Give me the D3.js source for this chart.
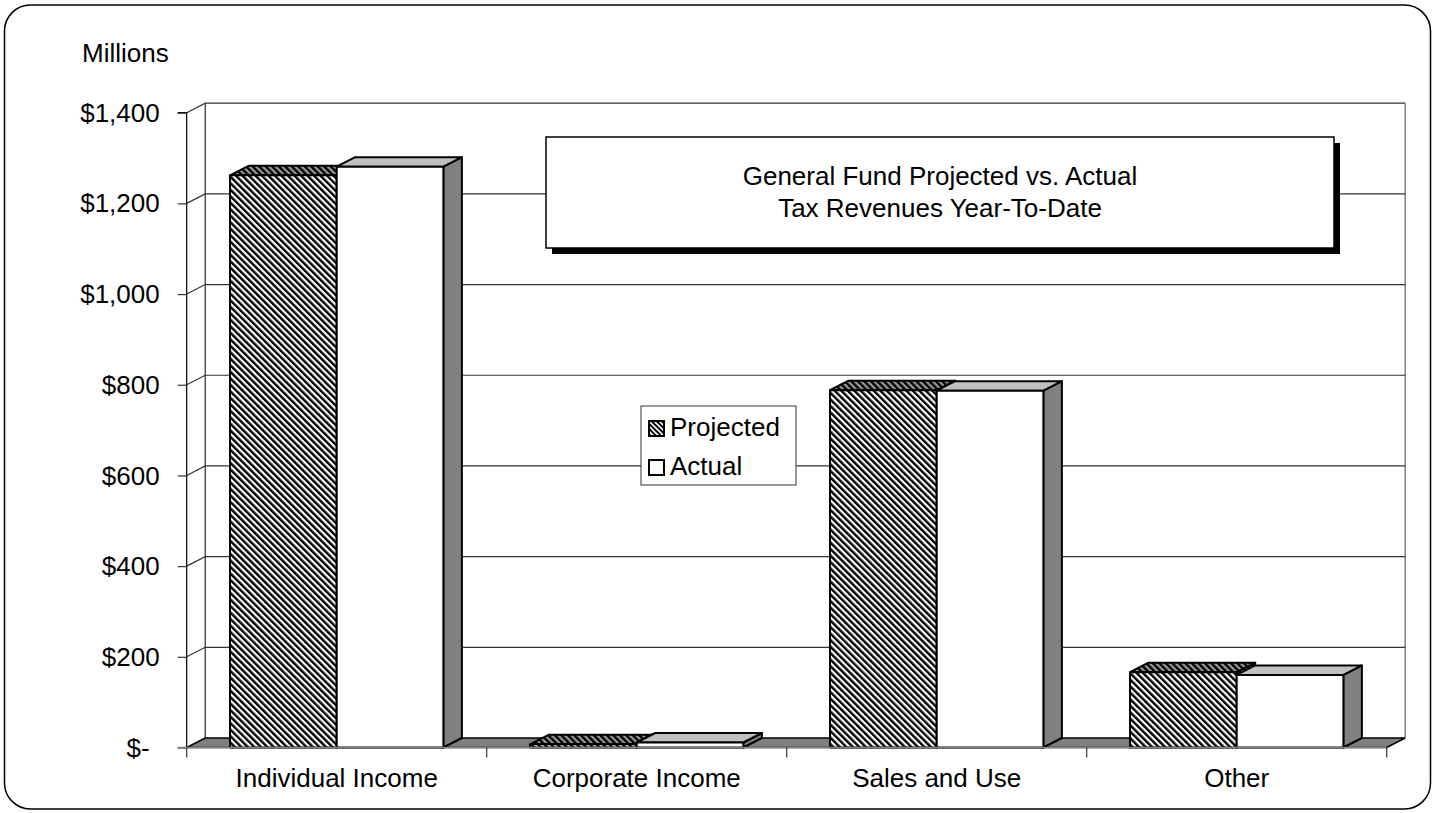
<!DOCTYPE html>
<html>
<head>
<meta charset="utf-8">
<script src="https://cdn.jsdelivr.net/npm/d3@7"></script>
<style>
  html, body { margin: 0; padding: 0; background: #fff; }
  svg { display: block; font-family: "Liberation Sans", Arial, sans-serif; }
</style>
</head>
<body>
<svg id="chart" width="1435" height="813"></svg>
<script>
// ---- data ----
const categories = ["Individual Income", "Corporate Income", "Sales and Use", "Other"];
const seriesNames = ["Projected", "Actual"];
const projected = [1262, 7, 788, 166];
const actual = [1281, 11, 787, 160];
const yTicks = [0, 200, 400, 600, 800, 1000, 1200, 1400];
const titleLines = ["General Fund Projected vs. Actual", "Tax Revenues Year-To-Date"];
const yUnitLabel = "Millions";

// ---- layout ----
const svg = d3.select("#chart");
const W = 1435, H = 813;
const X0 = 186.7, X1 = 1386.7;     // front plot extents
const Y0 = 747.5, Y1 = 112.7;      // front y for 0 and 1400
const DX = 18.5, DY = -9.5;        // 3D depth offset
const FS = 26;

const x = d3.scaleBand().domain(categories).range([X0, X1]).paddingInner(0).paddingOuter(0);
const barW = x.bandwidth() * 0.3556;
const xs = d3.scaleBand().domain(seriesNames)
  .range([x.bandwidth() / 2 - barW, x.bandwidth() / 2 + barW]);
const y = d3.scaleLinear().domain([0, 1400]).range([Y0, Y1]);

// defs: hatch patterns
const defs = svg.append("defs");
function hatch(id, bg, fg, period, stripe) {
  const p = defs.append("pattern").attr("id", id)
    .attr("patternUnits", "userSpaceOnUse")
    .attr("width", period).attr("height", period)
    .attr("patternTransform", "rotate(-45)");
  p.append("rect").attr("width", period).attr("height", period).attr("fill", bg);
  p.append("rect").attr("width", stripe).attr("height", period).attr("fill", fg);
}
hatch("hatchFront", "#ffffff", "#000000", 4.6, 2.4);
hatch("hatchTop", "#9a9a9a", "#000000", 4.6, 2.4);
hatch("hatchLegend", "#ffffff", "#000000", 3.6, 1.9);

// outer rounded border
svg.append("rect")
  .attr("x", 4.5).attr("y", 5).attr("width", W - 9).attr("height", H - 9)
  .attr("rx", 26).attr("ry", 26)
  .attr("fill", "#fff").attr("stroke", "#000").attr("stroke-width", 1.5);

// back wall edges
svg.append("line")
  .attr("x1", X0 + DX).attr("y1", y(1400) + DY).attr("x2", X0 + DX).attr("y2", y(0) + DY)
  .attr("stroke", "#000").attr("stroke-width", 1);
svg.append("line")
  .attr("x1", X1 + DX).attr("y1", y(1400) + DY).attr("x2", X1 + DX).attr("y2", y(0) + DY)
  .attr("stroke", "#808080").attr("stroke-width", 1.5);

// gridlines (side wall diagonal + back wall)
const grid = svg.append("g");
yTicks.filter(v => v > 0).forEach(v => {
  grid.append("path")
    .attr("d", `M${X0},${y(v)} L${X0 + DX},${y(v) + DY} L${X1 + DX},${y(v) + DY}`)
    .attr("fill", "none").attr("stroke", "#333").attr("stroke-width", 1.2);
});

// floor
svg.append("path")
  .attr("d", `M${X0},${y(0)} L${X0 + DX},${y(0) + DY} L${X1 + DX},${y(0) + DY} L${X1},${y(0)} Z`)
  .attr("fill", "#808080").attr("stroke", "#000").attr("stroke-width", 1.5);

// bars
const barsG = svg.append("g");
const seriesData = [
  { name: "Projected", values: projected, front: "url(#hatchFront)", top: "url(#hatchTop)", side: "url(#hatchTop)" },
  { name: "Actual", values: actual, front: "#ffffff", top: "#c0c0c0", side: "#808080" }
];
categories.forEach((c, ci) => {
  seriesData.forEach(s => {
    const v = s.values[ci];
    const bx = x(c) + xs(s.name);
    const w = xs.bandwidth();
    const yt = y(v), yb = y(0);
    const g = barsG.append("g").attr("stroke", "#000").attr("stroke-width", 2).attr("stroke-linejoin", "round");
    g.append("path")
      .attr("d", `M${bx + w},${yt} L${bx + w + DX},${yt + DY} L${bx + w + DX},${yb + DY} L${bx + w},${yb} Z`)
      .attr("fill", s.side);
    g.append("path")
      .attr("d", `M${bx},${yt} L${bx + DX},${yt + DY} L${bx + w + DX},${yt + DY} L${bx + w},${yt} Z`)
      .attr("fill", s.top);
    g.append("rect")
      .attr("x", bx).attr("y", yt).attr("width", w).attr("height", yb - yt)
      .attr("fill", s.front);
  });
});

// y axis
const yAxis = d3.axisLeft(y).tickValues(yTicks).tickSize(9).tickPadding(0)
  .tickFormat(v => v === 0 ? "$-" : "$" + d3.format(",")(v));
const yg = svg.append("g").attr("transform", `translate(${X0},0)`).call(yAxis);
yg.select(".domain").attr("stroke", "#000").attr("stroke-width", 1.2).attr("d", `M-9,${Y1}H0V${Y0}`);
yg.selectAll(".tick line").attr("stroke", "#333").attr("stroke-width", 1.2);
yg.selectAll(".tick text")
  .attr("font-size", FS).attr("fill", "#000")
  .attr("font-family", "Liberation Sans, Arial, sans-serif")
  .attr("x", d => d === 0 ? -37 : -27).attr("dy", "0.33em");

// x axis line + boundary ticks
const xg = svg.append("g");
xg.append("line").attr("x1", X0 - 9).attr("x2", X1).attr("y1", Y0).attr("y2", Y0)
  .attr("stroke", "#808080").attr("stroke-width", 1.5);
const bounds = categories.map(c => x(c)).concat([X1]);
xg.selectAll("line.bt").data(bounds).enter().append("line").attr("class", "bt")
  .attr("x1", d => d).attr("x2", d => d).attr("y1", Y0).attr("y2", Y0 + 10)
  .attr("stroke", "#333").attr("stroke-width", 1.2);
const xAxis = d3.axisBottom(x).tickSize(0).tickPadding(0);
const xag = svg.append("g").attr("transform", `translate(0,${Y0})`).call(xAxis);
xag.select(".domain").remove();
xag.selectAll(".tick text")
  .attr("font-size", FS).attr("fill", "#000")
  .attr("font-family", "Liberation Sans, Arial, sans-serif")
  .attr("y", 39.5).attr("dy", 0);

// units label
svg.append("text").attr("x", 82).attr("y", 62).attr("font-size", FS).text(yUnitLabel);

// title box with shadow
const tb = { x: 546, y: 137, w: 788, h: 111 };
svg.append("rect").attr("x", tb.x + 6).attr("y", tb.y + 6).attr("width", tb.w).attr("height", tb.h).attr("fill", "#000");
svg.append("rect").attr("x", tb.x).attr("y", tb.y).attr("width", tb.w).attr("height", tb.h)
  .attr("fill", "#fff").attr("stroke", "#000").attr("stroke-width", 1.5);
svg.append("text").attr("x", tb.x + tb.w / 2).attr("y", 185).attr("text-anchor", "middle")
  .attr("font-size", FS).text(titleLines[0]);
svg.append("text").attr("x", tb.x + tb.w / 2).attr("y", 217).attr("text-anchor", "middle")
  .attr("font-size", FS).text(titleLines[1]);

// legend
const lg = svg.append("g");
lg.append("rect").attr("x", 641).attr("y", 406).attr("width", 155).attr("height", 79)
  .attr("fill", "#fff").attr("stroke", "#333").attr("stroke-width", 1);
const legendItems = [
  { name: seriesNames[0], fill: "url(#hatchLegend)", yb: 436 },
  { name: seriesNames[1], fill: "#fff", yb: 475 }
];
legendItems.forEach(it => {
  lg.append("rect").attr("x", 649).attr("y", it.yb - 15).attr("width", 15).attr("height", 15)
    .attr("fill", it.fill).attr("stroke", "#000").attr("stroke-width", 2);
  lg.append("text").attr("x", 670).attr("y", it.yb).attr("font-size", FS).text(it.name);
});
</script>
</body>
</html>
